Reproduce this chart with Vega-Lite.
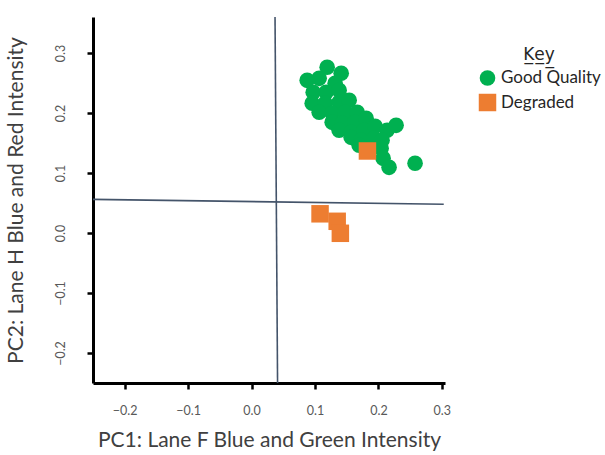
{
  "$schema": "https://vega.github.io/schema/vega-lite/v6.json",
  "width": 352,
  "height": 366,
  "autosize": {"type": "none"},
  "padding": {"left": 93, "top": 17, "right": 160, "bottom": 72},
  "background": "white",
  "config": {
    "view": {"stroke": null},
    "font": "Lato",
    "axis": {
      "grid": false,
      "domainColor": "black",
      "domainWidth": 3,
      "tickColor": "black",
      "tickWidth": 2.5,
      "tickSize": 6,
      "labelColor": "#595959",
      "labelFont": "Lato",
      "labelFontSize": 12.5,
      "titleColor": "#404040",
      "titleFont": "Lato",
      "titleFontSize": 21,
      "titleFontWeight": "normal"
    }
  },
  "datasets": {
    "points": [
      {"pc1": 0.1192, "pc2": 0.2762, "group": "Good Quality"},
      {"pc1": 0.1413, "pc2": 0.2662, "group": "Good Quality"},
      {"pc1": 0.0877, "pc2": 0.2545, "group": "Good Quality"},
      {"pc1": 0.1066, "pc2": 0.2578, "group": "Good Quality"},
      {"pc1": 0.1318, "pc2": 0.2495, "group": "Good Quality"},
      {"pc1": 0.0972, "pc2": 0.2345, "group": "Good Quality"},
      {"pc1": 0.1176, "pc2": 0.2345, "group": "Good Quality"},
      {"pc1": 0.1381, "pc2": 0.2378, "group": "Good Quality"},
      {"pc1": 0.0956, "pc2": 0.2162, "group": "Good Quality"},
      {"pc1": 0.1161, "pc2": 0.2162, "group": "Good Quality"},
      {"pc1": 0.1381, "pc2": 0.2178, "group": "Good Quality"},
      {"pc1": 0.1539, "pc2": 0.2212, "group": "Good Quality"},
      {"pc1": 0.1066, "pc2": 0.2012, "group": "Good Quality"},
      {"pc1": 0.1271, "pc2": 0.1995, "group": "Good Quality"},
      {"pc1": 0.1476, "pc2": 0.2012, "group": "Good Quality"},
      {"pc1": 0.1665, "pc2": 0.2012, "group": "Good Quality"},
      {"pc1": 0.1271, "pc2": 0.1845, "group": "Good Quality"},
      {"pc1": 0.1428, "pc2": 0.1828, "group": "Good Quality"},
      {"pc1": 0.1633, "pc2": 0.1845, "group": "Good Quality"},
      {"pc1": 0.1806, "pc2": 0.1912, "group": "Good Quality"},
      {"pc1": 0.1381, "pc2": 0.1712, "group": "Good Quality"},
      {"pc1": 0.1570, "pc2": 0.1678, "group": "Good Quality"},
      {"pc1": 0.1775, "pc2": 0.1712, "group": "Good Quality"},
      {"pc1": 0.1948, "pc2": 0.1778, "group": "Good Quality"},
      {"pc1": 0.2137, "pc2": 0.1712, "group": "Good Quality"},
      {"pc1": 0.2279, "pc2": 0.1795, "group": "Good Quality"},
      {"pc1": 0.1570, "pc2": 0.1595, "group": "Good Quality"},
      {"pc1": 0.1727, "pc2": 0.1545, "group": "Good Quality"},
      {"pc1": 0.1932, "pc2": 0.1578, "group": "Good Quality"},
      {"pc1": 0.2058, "pc2": 0.1545, "group": "Good Quality"},
      {"pc1": 0.1696, "pc2": 0.1462, "group": "Good Quality"},
      {"pc1": 0.1885, "pc2": 0.1412, "group": "Good Quality"},
      {"pc1": 0.2043, "pc2": 0.1412, "group": "Good Quality"},
      {"pc1": 0.2074, "pc2": 0.1245, "group": "Good Quality"},
      {"pc1": 0.2168, "pc2": 0.1095, "group": "Good Quality"},
      {"pc1": 0.2578, "pc2": 0.1162, "group": "Good Quality"},
      {"pc1": 0.108, "pc2": 0.032, "group": "Degraded"},
      {"pc1": 0.135, "pc2": 0.0195, "group": "Degraded"},
      {"pc1": 0.140, "pc2": -0.0005, "group": "Degraded"},
      {"pc1": 0.1827, "pc2": 0.1367, "group": "Degraded"}
    ],
    "lines": [
      {"x1": 0.037, "y1": 0.36, "x2": 0.041, "y2": -0.25},
      {"x1": -0.25, "y1": 0.056, "x2": 0.303, "y2": 0.048}
    ]
  },
  "layer": [
    {
      "data": {"name": "lines"},
      "mark": {"type": "rule", "color": "#44546a", "strokeWidth": 1.6},
      "encoding": {
        "x": {"field": "x1", "type": "quantitative", "scale": {"domain": [-0.25, 0.305], "nice": false, "zero": false}},
        "y": {"field": "y1", "type": "quantitative", "scale": {"domain": [-0.25, 0.36], "nice": false, "zero": false}},
        "x2": {"field": "x2"},
        "y2": {"field": "y2"}
      }
    },
    {
      "data": {"name": "points"},
      "mark": {"type": "point", "filled": true, "opacity": 1, "strokeWidth": 0},
      "encoding": {
        "x": {
          "field": "pc1", "type": "quantitative",
          "scale": {"domain": [-0.25, 0.305], "nice": false, "zero": false},
          "axis": {"values": [-0.2, -0.1, 0, 0.1, 0.2, 0.3], "format": ".1f", "title": "PC1: Lane F Blue and Green Intensity", "labelPadding": 15, "titlePadding": 13}
        },
        "y": {
          "field": "pc2", "type": "quantitative",
          "scale": {"domain": [-0.25, 0.36], "nice": false, "zero": false},
          "axis": {"values": [-0.2, -0.1, 0, 0.1, 0.2, 0.3], "format": ".1f", "title": "PC2: Lane H Blue and Red Intensity", "labelAngle": 270, "labelAlign": "center", "labelBaseline": "bottom", "labelPadding": 20, "titlePadding": 28}
        },
        "color": {
          "field": "group", "type": "nominal",
          "scale": {"domain": ["Good Quality", "Degraded"], "range": ["#00b050", "#ed7d31"]},
          "legend": {
            "title": "K\u0332e\u0332y\u0332",
            "orient": "none",
            "legendX": 385,
            "legendY": 30,
            "titleFont": "DejaVu Sans",
            "titleFontSize": 17,
            "titleFontWeight": "normal",
            "titleColor": "#262626",
            "titleAnchor": "middle",
            "titlePadding": 5,
            "labelFont": "Lato",
            "labelFontSize": 17,
            "labelColor": "#262626",
            "labelOffset": 4,
            "symbolSize": 170,
            "rowPadding": 7
          }
        },
        "shape": {
          "field": "group", "type": "nominal",
          "scale": {"domain": ["Good Quality", "Degraded"], "range": ["circle", "square"]},
          "legend": null
        },
        "size": {
          "field": "group", "type": "nominal",
          "scale": {"domain": ["Good Quality", "Degraded"], "range": [245, 306]},
          "legend": null
        }
      }
    }
  ]
}
